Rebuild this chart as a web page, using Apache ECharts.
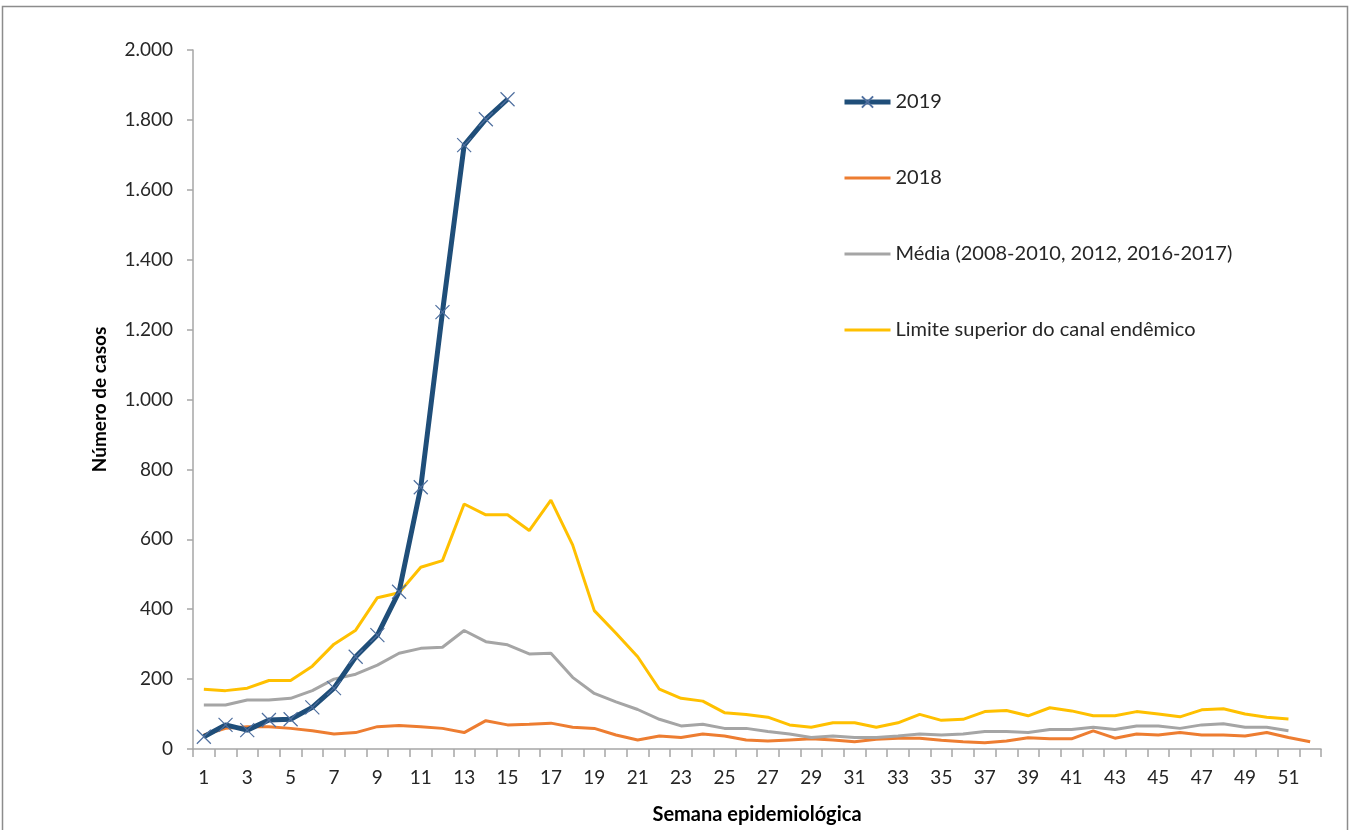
<!DOCTYPE html>
<html>
<head>
<meta charset="utf-8">
<script src="https://cdn.jsdelivr.net/npm/echarts@6/dist/echarts.min.js"></script>
<style>
html,body{margin:0;padding:0;background:#fff;}
#chart{width:1351px;height:830px;}
</style>
</head>
<body>
<div id="chart"></div>
<script>
const weeks = Array.from({length: 52}, (_, i) => String(i + 1));

const s2019 = [35, 69, 54, 83, 85, 119, 174, 264, 326, 450, 749, 1250, 1728, 1802, 1859];

const s2018 = [40, 59, 64, 64, 59, 52, 43, 47, 64, 67, 64, 59, 47, 81, 69, 71, 74, 62,
  59, 40, 26, 37, 33, 43, 37, 26, 23, 26, 29, 26, 21, 28, 31, 31, 25, 21, 18, 23, 32,
  29, 29, 52, 31, 43, 40, 47, 40, 40, 37, 47, 33, 21];

const sMedia = [126, 126, 140, 140, 145, 167, 200, 214, 240, 274, 288, 291, 339, 307, 298,
  272, 274, 205, 159, 135, 113, 85, 66, 71, 59, 59, 50, 43, 33, 37, 33, 33, 37, 43, 40,
  43, 50, 50, 47, 56, 56, 62, 56, 66, 66, 59, 69, 72, 62, 62, 52];

const sLimite = [171, 167, 174, 196, 196, 237, 300, 340, 433, 447, 520, 539, 701, 670, 670,
  625, 712, 584, 396, 331, 264, 171, 145, 137, 104, 99, 91, 69, 62, 75, 75, 62, 75, 99, 82,
  85, 107, 110, 95, 118, 109, 95, 95, 107, 100, 92, 112, 115, 100, 91, 86];

const seriesNames = ['2019', '2018', 'Média (2008-2010, 2012, 2016-2017)', 'Limite superior do canal endêmico'];

const FONT = 'Lato, "Open Sans", sans-serif';
// thin horizontal bar inside a 46x14 box (tiny corner dots fix the bounding box)
const lineIcon = 'path://M0,0H0.05V0.05H0ZM0,5.5H46V8.5H0ZM45.95,13.95H46V14H45.95Z';

const chart = echarts.init(document.getElementById('chart'));
chart.setOption({
  animation: false,
  backgroundColor: '#ffffff',
  graphic: [{
    type: 'rect',
    shape: {x: 2.5, y: 6.5, width: 1345, height: 900},
    style: {fill: 'none', stroke: '#8c8c8c', lineWidth: 1.5},
    silent: true
  }],
  grid: {left: 193, right: 30, top: 50, bottom: 81, containLabel: false},
  legend: {
    orient: 'vertical',
    left: 842,
    top: 92,
    padding: 0,
    itemWidth: 46,
    itemHeight: 14,
    itemGap: 56,
    data: [
      {name: seriesNames[0], lineStyle: {width: 5}},
      {name: seriesNames[1], icon: lineIcon},
      {name: seriesNames[2], icon: lineIcon},
      {name: seriesNames[3], icon: lineIcon}
    ],
    textStyle: {fontFamily: FONT, fontSize: 20, color: '#262626', lineHeight: 20}
  },
  xAxis: {
    type: 'category',
    data: weeks,
    boundaryGap: true,
    name: 'Semana epidemiológica',
    nameLocation: 'middle',
    nameGap: 56,
    nameTextStyle: {fontFamily: FONT, fontSize: 20, fontWeight: 'bold', color: '#000'},
    axisLine: {lineStyle: {color: '#a6a6a6', width: 1.5}},
    axisTick: {show: true, interval: 0, length: 8, lineStyle: {color: '#a6a6a6', width: 1.5}},
    axisLabel: {interval: 1, fontFamily: FONT, fontSize: 19, color: '#262626', margin: 19},
    splitLine: {show: false}
  },
  yAxis: {
    type: 'value',
    min: 0,
    max: 2000,
    interval: 200,
    name: 'Número de casos',
    nameLocation: 'middle',
    nameGap: 84,
    nameRotate: 90,
    nameTextStyle: {fontFamily: FONT, fontSize: 19, fontWeight: 'bold', color: '#000'},
    axisLine: {show: true, lineStyle: {color: '#a6a6a6', width: 1.5}},
    axisTick: {show: true, length: 6, lineStyle: {color: '#a6a6a6', width: 1.5}},
    axisLabel: {
      fontFamily: FONT, fontSize: 19, color: '#262626', margin: 20,
      formatter: v => v.toString().replace(/\B(?=(\d{3})+(?!\d))/g, '.')
    },
    splitLine: {show: false}
  },
  series: [
    {
      name: seriesNames[0], type: 'line', data: s2019, z: 5,
      symbol: 'path://M0,0L10,10M10,0L0,10', symbolSize: 14,
      lineStyle: {color: '#1f4e79', width: 5},
      itemStyle: {color: 'rgba(0,0,0,0)', borderColor: '#4f6f9f', borderWidth: 1.2}
    },
    {
      name: seriesNames[1], type: 'line', data: s2018, symbol: 'none',
      lineStyle: {color: '#ed7d31', width: 3}, itemStyle: {color: '#ed7d31'}
    },
    {
      name: seriesNames[2], type: 'line', data: sMedia, symbol: 'none',
      lineStyle: {color: '#a5a5a5', width: 3}, itemStyle: {color: '#a5a5a5'}
    },
    {
      name: seriesNames[3], type: 'line', data: sLimite, symbol: 'none',
      lineStyle: {color: '#ffc000', width: 3}, itemStyle: {color: '#ffc000'}
    }
  ]
});
</script>
</body>
</html>
